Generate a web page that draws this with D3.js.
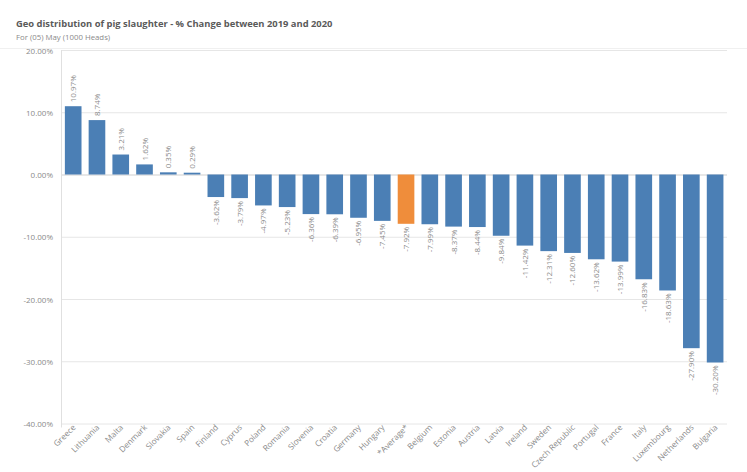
<!DOCTYPE html>
<html><head><meta charset="utf-8">
<script src="https://cdn.jsdelivr.net/npm/d3@7"></script>
<style>body{margin:0;background:#fff;font-family:"Open Sans",sans-serif;}</style>
</head><body><svg id="c" width="747" height="472"></svg>
<script>
const categories = ["Greece","Lithuania","Malta","Denmark","Slovakia","Spain","Finland","Cyprus","Poland","Romania","Slovenia","Croatia","Germany","Hungary","*Average*","Belgium","Estonia","Austria","Latvia","Ireland","Sweden","Czech Republic","Portugal","France","Italy","Luxembourg","Netherlands","Bulgaria"];
const values = [10.97,8.74,3.21,1.62,0.35,0.29,-3.62,-3.79,-4.97,-5.23,-6.36,-6.39,-6.95,-7.45,-7.92,-7.99,-8.37,-8.44,-9.84,-11.42,-12.31,-12.60,-13.62,-13.99,-16.83,-18.63,-27.90,-30.20];
const yTicks = [20,10,0,-10,-20,-30,-40];
const highlight = "*Average*";

const fmt = v => d3.format(".2f")(v).replace("\u2212","-") + "%";

const svg = d3.select("#c");
svg.append("text").attr("x",16).attr("y",27).attr("font-size",9.4).attr("font-weight",700).attr("fill","#5a5a5a")
  .text("Geo distribution of pig slaughter - % Change between 2019 and 2020");
svg.append("text").attr("x",16).attr("y",40).attr("font-size",7.8).attr("fill","#8a8a8a")
  .text("For (05) May (1000 Heads)");
svg.append("line").attr("x1",0).attr("x2",747).attr("y1",48.5).attr("y2",48.5).attr("stroke","#f0f0f0");

const x = d3.scaleBand().domain(categories).range([61.3,727]).paddingInner(0.3).paddingOuter(0.15);
const y = d3.scaleLinear().domain([-40,20]).range([423.5,50]);

// gridlines
svg.append("g").selectAll("line").data(yTicks).join("line")
  .attr("x1",61).attr("x2",727).attr("y1",d=>y(d)+0.5).attr("y2",d=>y(d)+0.5)
  .attr("stroke",d=>d===0?"#cfcfcf":"#e6e6e6").attr("stroke-width",1);
svg.append("line").attr("x1",61.5).attr("x2",61.5).attr("y1",y(20)).attr("y2",y(-40)+4).attr("stroke","#e0e0e0");

// y axis labels
const yAxis = d3.axisLeft(y).tickValues(yTicks).tickSize(0).tickPadding(0).tickFormat(fmt);
const gy = svg.append("g").attr("transform","translate(53,0.5)").call(yAxis);
gy.select(".domain").remove();
gy.selectAll("text").attr("font-size",8).attr("fill","#8a8a8a").attr("font-family","Open Sans, sans-serif");

// bars
svg.append("g").selectAll("rect").data(categories).join("rect")
  .attr("x",d=>x(d)).attr("width",x.bandwidth())
  .attr("y",(d,i)=>y(Math.max(0,values[i])))
  .attr("height",(d,i)=>Math.abs(y(values[i])-y(0)))
  .attr("fill",d=>d===highlight?"#ef8d3b":"#4b7fb5");

// value labels
svg.append("g").selectAll("text").data(categories).join("text")
  .attr("transform",(d,i)=>{
    const cx = x(d)+x.bandwidth()/2+3;
    const yy = values[i]>=0 ? y(values[i])-4 : y(values[i])+3;
    return `translate(${cx},${yy}) rotate(-90)`;})
  .attr("text-anchor",(d,i)=>values[i]>=0?"start":"end")
  .attr("font-size",8).attr("fill","#8a8a8a")
  .text((d,i)=>fmt(values[i]));

// x labels
const xAxis = d3.axisBottom(x).tickSize(0).tickPadding(0);
const gx = svg.append("g").call(xAxis);
gx.select(".domain").remove();
gx.selectAll(".tick text")
  .attr("transform","translate(3,428) rotate(-45)")
  .attr("dy",0).attr("y",0).attr("x",0)
  .attr("text-anchor","end").attr("font-size",8.2).attr("fill","#8a8a8a").attr("font-family","Open Sans, sans-serif");
</script></body></html>
